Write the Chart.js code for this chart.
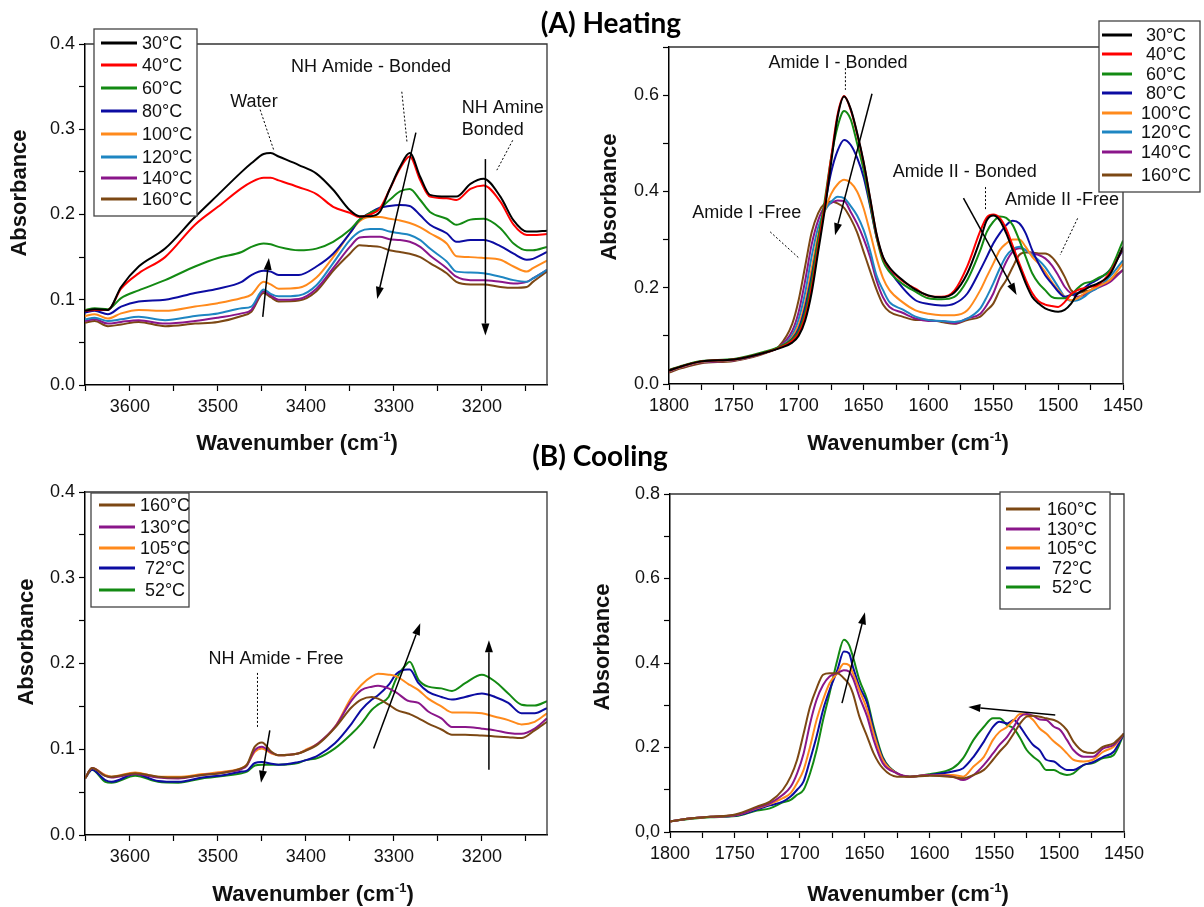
<!DOCTYPE html>
<html><head><meta charset="utf-8">
<script src="https://cdn.jsdelivr.net/npm/chart.js@4.4.1/dist/chart.umd.min.js"></script>
<style>
html,body{margin:0;padding:0;background:#fff;}
#wrap{position:relative;width:1204px;height:907px;overflow:hidden;background:#fff;}
canvas{position:absolute;}
.title{position:absolute;font-family:Lato,"Liberation Sans",sans-serif;font-weight:bold;font-size:28px;color:#000;transform:translate(-50%,-50%);white-space:nowrap;}
</style></head><body>
<div id="wrap">
<canvas id="c1" width="580" height="460" style="left:0px;top:0px"></canvas>
<canvas id="c2" width="624" height="460" style="left:580px;top:0px"></canvas>
<canvas id="c3" width="580" height="447" style="left:0px;top:460px"></canvas>
<canvas id="c4" width="624" height="447" style="left:580px;top:460px"></canvas>
<div class="title" style="left:611px;top:22px">(A) Heating</div>
<div class="title" style="left:600px;top:455px">(B) Cooling</div>
</div>
<script>
// ---------- DATA ----------
const HEAT_LABELS = ['30°C','40°C','60°C','80°C','100°C','120°C','140°C','160°C'];
const COOL_LABELS = ['160°C','130°C','105°C','72°C','52°C'];

// (A) Heating, NH region
const WN_A1 = [3651,3640,3625,3610,3590,3560,3526,3500,3473,3462,3448,3440,3431,3408,3388,3369,3350,3339,3327,3316,3305,3293,3282,3270,3259,3240,3229,3213,3198,3179,3164,3149,3142,3126];
const A1_30  = [0.087,0.089,0.088,0.115,0.139,0.160,0.197,0.223,0.250,0.260,0.271,0.272,0.268,0.258,0.248,0.229,0.205,0.198,0.198,0.203,0.229,0.256,0.272,0.244,0.223,0.221,0.221,0.236,0.242,0.221,0.193,0.180,0.180,0.181];
const A1_40  = [0.087,0.088,0.088,0.113,0.131,0.150,0.188,0.209,0.231,0.238,0.243,0.243,0.240,0.232,0.224,0.209,0.202,0.197,0.200,0.207,0.229,0.254,0.268,0.240,0.221,0.219,0.217,0.230,0.234,0.215,0.188,0.176,0.176,0.177];
const A1_60  = [0.088,0.090,0.089,0.102,0.111,0.123,0.139,0.149,0.156,0.162,0.166,0.165,0.162,0.158,0.160,0.168,0.182,0.194,0.202,0.207,0.217,0.227,0.230,0.217,0.203,0.195,0.188,0.194,0.195,0.184,0.166,0.158,0.158,0.162];
const A1_80  = [0.085,0.087,0.083,0.092,0.098,0.100,0.108,0.113,0.121,0.129,0.134,0.133,0.129,0.129,0.139,0.154,0.178,0.194,0.202,0.208,0.210,0.211,0.210,0.199,0.188,0.178,0.168,0.170,0.170,0.163,0.154,0.147,0.148,0.156];
const A1_100 = [0.081,0.083,0.078,0.084,0.088,0.087,0.092,0.096,0.102,0.106,0.121,0.118,0.113,0.114,0.126,0.150,0.178,0.192,0.197,0.197,0.195,0.193,0.190,0.185,0.178,0.166,0.151,0.150,0.149,0.147,0.139,0.133,0.137,0.146];
const A1_120 = [0.077,0.079,0.075,0.077,0.080,0.076,0.081,0.084,0.090,0.092,0.112,0.107,0.104,0.105,0.117,0.143,0.170,0.180,0.183,0.183,0.180,0.178,0.176,0.170,0.160,0.145,0.133,0.132,0.131,0.127,0.123,0.121,0.125,0.135];
const A1_140 = [0.075,0.077,0.072,0.074,0.076,0.072,0.075,0.079,0.084,0.088,0.110,0.105,0.100,0.101,0.113,0.137,0.162,0.173,0.174,0.174,0.171,0.170,0.168,0.162,0.152,0.137,0.127,0.123,0.123,0.121,0.119,0.121,0.125,0.135];
const A1_160 = [0.073,0.075,0.069,0.071,0.074,0.069,0.072,0.074,0.081,0.086,0.108,0.103,0.098,0.099,0.110,0.134,0.154,0.164,0.163,0.162,0.158,0.156,0.154,0.150,0.143,0.131,0.121,0.118,0.118,0.115,0.114,0.115,0.121,0.133];

// (A) Heating, amide region
const WN_A2 = [1800,1790,1775,1750,1725,1715,1705,1700,1695,1690,1685,1680,1675,1670,1665,1660,1655,1650,1645,1640,1635,1630,1620,1610,1600,1590,1580,1570,1560,1555,1550,1545,1540,1535,1530,1525,1520,1515,1510,1505,1500,1495,1490,1485,1480,1475,1470,1460,1450];
const A2_30  = [0.028,0.037,0.047,0.051,0.066,0.074,0.086,0.100,0.132,0.190,0.275,0.360,0.460,0.555,0.597,0.572,0.522,0.462,0.387,0.312,0.264,0.242,0.216,0.196,0.184,0.180,0.190,0.230,0.300,0.340,0.350,0.340,0.313,0.278,0.244,0.209,0.181,0.167,0.157,0.152,0.150,0.154,0.167,0.188,0.195,0.203,0.208,0.228,0.285];
const A2_40  = [0.028,0.037,0.047,0.051,0.066,0.075,0.090,0.105,0.140,0.200,0.285,0.370,0.470,0.560,0.598,0.570,0.520,0.460,0.385,0.310,0.262,0.240,0.214,0.198,0.183,0.181,0.194,0.245,0.318,0.346,0.352,0.345,0.322,0.287,0.251,0.217,0.189,0.172,0.165,0.162,0.160,0.170,0.187,0.195,0.199,0.202,0.205,0.232,0.283];
const A2_60  = [0.029,0.038,0.048,0.052,0.068,0.077,0.093,0.110,0.150,0.215,0.300,0.380,0.470,0.535,0.567,0.550,0.500,0.445,0.375,0.305,0.255,0.233,0.208,0.192,0.178,0.176,0.181,0.216,0.278,0.316,0.337,0.348,0.345,0.330,0.299,0.264,0.230,0.209,0.195,0.181,0.178,0.178,0.185,0.199,0.209,0.212,0.219,0.237,0.298];
const A2_80  = [0.028,0.037,0.047,0.051,0.066,0.076,0.094,0.115,0.160,0.225,0.300,0.370,0.440,0.485,0.507,0.497,0.470,0.430,0.370,0.305,0.262,0.237,0.200,0.174,0.166,0.163,0.167,0.188,0.237,0.264,0.292,0.313,0.330,0.339,0.334,0.313,0.278,0.250,0.226,0.209,0.192,0.181,0.185,0.188,0.199,0.209,0.216,0.237,0.278];
const A2_100 = [0.027,0.036,0.046,0.050,0.066,0.076,0.097,0.123,0.170,0.240,0.310,0.360,0.395,0.415,0.424,0.418,0.400,0.365,0.315,0.262,0.220,0.195,0.170,0.153,0.146,0.143,0.143,0.153,0.195,0.223,0.250,0.278,0.292,0.300,0.300,0.285,0.264,0.250,0.233,0.212,0.195,0.181,0.174,0.178,0.188,0.195,0.202,0.216,0.250];
const A2_120 = [0.027,0.036,0.046,0.050,0.066,0.076,0.102,0.135,0.190,0.265,0.325,0.360,0.378,0.389,0.386,0.370,0.350,0.320,0.277,0.225,0.195,0.170,0.155,0.140,0.133,0.131,0.129,0.136,0.157,0.181,0.209,0.240,0.266,0.280,0.285,0.278,0.268,0.257,0.243,0.223,0.202,0.181,0.173,0.174,0.181,0.192,0.199,0.223,0.257];
const A2_140 = [0.026,0.035,0.045,0.049,0.066,0.077,0.110,0.150,0.215,0.290,0.340,0.368,0.376,0.381,0.380,0.358,0.333,0.302,0.264,0.215,0.180,0.160,0.148,0.136,0.131,0.131,0.126,0.136,0.146,0.164,0.188,0.223,0.254,0.275,0.282,0.278,0.271,0.268,0.261,0.247,0.226,0.202,0.188,0.181,0.185,0.192,0.199,0.212,0.237];
const A2_160 = [0.024,0.033,0.043,0.048,0.065,0.079,0.125,0.175,0.245,0.315,0.355,0.375,0.379,0.375,0.366,0.344,0.315,0.275,0.235,0.196,0.165,0.150,0.140,0.133,0.133,0.129,0.125,0.133,0.140,0.153,0.167,0.195,0.216,0.243,0.268,0.273,0.273,0.271,0.271,0.264,0.247,0.223,0.195,0.188,0.192,0.195,0.202,0.216,0.237];

// (B) Cooling, NH region
const WN_B1 = [3651,3643,3628,3621,3594,3568,3545,3518,3492,3473,3467,3458,3450,3439,3431,3409,3401,3386,3367,3348,3337,3325,3318,3306,3297,3285,3282,3272,3261,3246,3234,3219,3200,3185,3170,3155,3140,3126];
const B1_160 = [0.066,0.078,0.069,0.068,0.072,0.068,0.067,0.070,0.073,0.078,0.082,0.103,0.108,0.097,0.093,0.095,0.098,0.106,0.125,0.149,0.158,0.161,0.159,0.152,0.146,0.142,0.141,0.136,0.130,0.123,0.117,0.117,0.116,0.115,0.114,0.113,0.122,0.132];
const B1_130 = [0.066,0.078,0.069,0.067,0.071,0.067,0.066,0.070,0.073,0.077,0.081,0.099,0.103,0.096,0.093,0.095,0.098,0.107,0.126,0.157,0.169,0.173,0.174,0.171,0.166,0.157,0.156,0.154,0.144,0.136,0.126,0.126,0.124,0.122,0.119,0.118,0.124,0.136];
const B1_105 = [0.066,0.078,0.070,0.068,0.073,0.068,0.068,0.071,0.074,0.078,0.082,0.097,0.101,0.095,0.093,0.095,0.099,0.107,0.126,0.161,0.175,0.185,0.188,0.187,0.185,0.177,0.175,0.169,0.159,0.150,0.143,0.143,0.142,0.138,0.134,0.129,0.132,0.142];
const B1_72  = [0.066,0.076,0.064,0.062,0.071,0.063,0.062,0.067,0.070,0.074,0.075,0.084,0.085,0.083,0.082,0.085,0.087,0.093,0.107,0.130,0.146,0.158,0.163,0.175,0.188,0.193,0.193,0.177,0.167,0.161,0.158,0.161,0.165,0.161,0.154,0.142,0.142,0.148];
const B1_52  = [0.066,0.076,0.062,0.061,0.069,0.062,0.061,0.066,0.069,0.072,0.074,0.081,0.082,0.082,0.082,0.084,0.087,0.090,0.101,0.118,0.130,0.146,0.152,0.161,0.183,0.200,0.202,0.181,0.173,0.171,0.168,0.177,0.187,0.179,0.165,0.152,0.151,0.156];

// (B) Cooling, amide region
const WN_B2 = [1800,1785,1769,1749,1733,1723,1713,1707,1702,1697,1692,1687,1682,1677,1671,1666,1662,1659,1654,1648,1643,1636,1625,1615,1600,1582,1574,1566,1558,1551,1546,1540,1535,1530,1525,1520,1515,1510,1504,1499,1494,1489,1481,1474,1466,1458,1450];
const B2_160 = [0.025,0.032,0.036,0.042,0.060,0.072,0.100,0.131,0.171,0.233,0.297,0.340,0.372,0.376,0.376,0.364,0.350,0.328,0.273,0.226,0.186,0.151,0.131,0.131,0.133,0.130,0.127,0.135,0.147,0.171,0.190,0.210,0.233,0.257,0.273,0.275,0.273,0.269,0.265,0.257,0.241,0.214,0.190,0.187,0.202,0.210,0.233];
const B2_130 = [0.025,0.032,0.036,0.040,0.057,0.068,0.088,0.107,0.139,0.186,0.257,0.313,0.348,0.368,0.376,0.383,0.380,0.364,0.320,0.273,0.218,0.163,0.139,0.131,0.135,0.131,0.123,0.135,0.159,0.186,0.206,0.226,0.249,0.273,0.279,0.275,0.266,0.265,0.249,0.241,0.218,0.194,0.178,0.178,0.198,0.206,0.233];
const B2_105 = [0.025,0.032,0.036,0.040,0.056,0.066,0.080,0.092,0.116,0.147,0.202,0.265,0.313,0.352,0.376,0.398,0.395,0.376,0.336,0.289,0.233,0.171,0.139,0.131,0.135,0.135,0.131,0.155,0.178,0.218,0.237,0.249,0.265,0.279,0.277,0.265,0.245,0.233,0.214,0.202,0.186,0.171,0.167,0.171,0.190,0.202,0.233];
const B2_72  = [0.025,0.032,0.036,0.039,0.053,0.063,0.072,0.084,0.100,0.120,0.171,0.226,0.289,0.336,0.383,0.427,0.423,0.391,0.344,0.305,0.241,0.175,0.139,0.131,0.135,0.143,0.151,0.178,0.214,0.249,0.261,0.257,0.265,0.249,0.226,0.206,0.194,0.171,0.167,0.155,0.147,0.147,0.159,0.165,0.178,0.190,0.233];
const B2_52  = [0.025,0.031,0.035,0.038,0.051,0.056,0.070,0.076,0.088,0.100,0.139,0.194,0.265,0.328,0.407,0.455,0.443,0.415,0.360,0.313,0.249,0.178,0.139,0.131,0.137,0.151,0.175,0.218,0.249,0.269,0.269,0.253,0.245,0.222,0.194,0.178,0.166,0.147,0.147,0.139,0.135,0.139,0.159,0.163,0.175,0.182,0.233];

// tick values
const X_TICKS_NH = [3650,3600,3550,3500,3450,3400,3350,3300,3250,3200,3150];
const X_TICKS_AM = [1800,1775,1750,1725,1700,1675,1650,1625,1600,1575,1550,1525,1500,1475,1450];
const Y_TICKS_04 = [0,0.05,0.1,0.15,0.2,0.25,0.3,0.35,0.4];
const Y_TICKS_07 = [0,0.1,0.2,0.3,0.4,0.5,0.6,0.7];
const Y_TICKS_08 = [0,0.1,0.2,0.3,0.4,0.5,0.6,0.7,0.8];

// ---------- STYLE ----------
const HEAT_COLORS = ['#000000','#ff0000','#138a13','#0c0ca2','#ff8a1c','#1e86c2','#8a168a','#7c4814'];
const COOL_COLORS = ['#7c4814','#8a168a','#ff8a1c','#0c0ca2','#138a13'];
const FONT = '"Liberation Sans", Arial, sans-serif';
Chart.defaults.font.family = FONT;

const DECO = {};
function arrow(ctx,x1,y1,x2,y2){
  const ang=Math.atan2(y2-y1,x2-x1), L=12, W=4;
  const bx=x2-L*Math.cos(ang), by=y2-L*Math.sin(ang);
  ctx.strokeStyle='#000'; ctx.fillStyle='#000'; ctx.lineWidth=1.5; ctx.setLineDash([]);
  ctx.beginPath(); ctx.moveTo(x1,y1); ctx.lineTo(bx,by); ctx.stroke();
  ctx.beginPath(); ctx.moveTo(x2,y2);
  ctx.lineTo(bx+W*Math.sin(ang), by-W*Math.cos(ang));
  ctx.lineTo(bx-W*Math.sin(ang), by+W*Math.cos(ang));
  ctx.closePath(); ctx.fill();
}
const deco = {
  id:'deco',
  afterDraw(chart){
    const o = DECO[chart.canvas.id]; if(!o) return;
    const ctx=chart.ctx, ca=chart.chartArea, xs=chart.scales.x, ys=chart.scales.y;
    const px=v=>xs.getPixelForValue(v), py=v=>ys.getPixelForValue(v);
    ctx.save();
    // frame top/right
    ctx.strokeStyle='#333'; ctx.lineWidth=1.3;
    ctx.beginPath(); ctx.moveTo(ca.left,ca.top); ctx.lineTo(ca.right,ca.top); ctx.lineTo(ca.right,ca.bottom); ctx.stroke();
    // dotted leaders
    ctx.strokeStyle='#000'; ctx.lineWidth=1; ctx.setLineDash([2,2]);
    o.dotted.forEach(d=>{ ctx.beginPath(); ctx.moveTo(px(d[0]),py(d[1])); ctx.lineTo(px(d[2]),py(d[3])); ctx.stroke(); });
    ctx.setLineDash([]);
    // arrows
    o.arrows.forEach(a=>arrow(ctx,px(a[0]),py(a[1]),px(a[2]),py(a[3])));
    // annotation texts
    ctx.fillStyle='#111'; ctx.font='18px '+FONT; ctx.textBaseline='middle';
    o.texts.forEach(t=>{ ctx.textAlign=t.align||'center'; ctx.fillText(t.t,px(t.x),py(t.y)); });
    // legend
    const L=o.legend;
    ctx.fillStyle='#fff'; ctx.fillRect(L.box[0],L.box[1],L.box[2]-L.box[0],L.box[3]-L.box[1]);
    ctx.strokeStyle='#444'; ctx.lineWidth=1.3; ctx.strokeRect(L.box[0],L.box[1],L.box[2]-L.box[0],L.box[3]-L.box[1]);
    chart.data.datasets.forEach((ds,i)=>{
      const y=L.rows[i];
      ctx.strokeStyle=ds.borderColor; ctx.lineWidth=3;
      ctx.beginPath(); ctx.moveTo(L.line[0],y); ctx.lineTo(L.line[1],y); ctx.stroke();
      ctx.fillStyle='#111'; ctx.font='18px '+FONT; ctx.textAlign=L.align; ctx.textBaseline='middle';
      ctx.fillText(ds.label,L.tx,y+1);
    });
    // axis titles
    ctx.fillStyle='#111';
    ctx.save(); ctx.translate(o.yTitle[0],o.yTitle[1]); ctx.rotate(-Math.PI/2);
    ctx.font='bold 22px '+FONT; ctx.textAlign='center'; ctx.textBaseline='middle';
    ctx.fillText('Absorbance',0,0); ctx.restore();
    const big='bold 22px '+FONT, small='bold 13px '+FONT;
    const a='Wavenumber (cm', s='-1', b=')';
    ctx.font=big; const wa=ctx.measureText(a).width, wb=ctx.measureText(b).width;
    ctx.font=small; const ws=ctx.measureText(s).width;
    let x=o.xTitle[0]-(wa+ws+wb)/2; const cy=o.xTitle[1];
    ctx.textAlign='left'; ctx.textBaseline='alphabetic';
    ctx.font=big; ctx.fillText(a,x,cy+8); x+=wa;
    ctx.font=small; ctx.fillText(s,x,cy-1); x+=ws;
    ctx.font=big; ctx.fillText(b,x,cy+8);
    ctx.restore();
  }
};

function makeChart(id, p){
  const datasets = p.series.map((vals,i)=>({
    label:p.labels[i],
    data:p.wn.map((w,j)=>({x:w,y:vals[j]})),
    borderColor:p.colors[i], backgroundColor:p.colors[i],
    borderWidth:2, pointRadius:0, fill:false, cubicInterpolationMode:'monotone'
  }));
  const tickFont={family:FONT,size:18};
  const grid={drawOnChartArea:false,drawTicks:true,tickLength:6,color:'#000',tickWidth:1.2};
  const border={display:true,color:'#000',width:1.5};
  DECO[id]=p.deco;
  return new Chart(document.getElementById(id),{
    type:'line',
    data:{datasets},
    options:{
      responsive:false, animation:false, devicePixelRatio:1,
      layout:{padding:{left:0,top:p.area.top,right:p.area.right,bottom:0}},
      plugins:{legend:{display:false},tooltip:{enabled:false}},
      scales:{
        x:{type:'linear',reverse:true,min:p.xmin,max:p.xmax,
          afterBuildTicks:s=>{s.ticks=p.xticks.map(v=>({value:v}));},
          afterFit:s=>{s.height=p.area.xh;},
          ticks:{autoSkip:false,maxRotation:0,minRotation:0,padding:5,color:'#111',font:tickFont,callback:v=>p.xlabel(v)},
          grid, border},
        y:{type:'linear',min:0,max:p.ymax,
          afterBuildTicks:s=>{s.ticks=p.yticks.map(v=>({value:v}));},
          afterFit:s=>{s.width=p.area.yw;},
          ticks:{autoSkip:false,padding:4,color:'#111',font:tickFont,callback:v=>p.ylabel(v)},
          grid, border}
      }
    },
    plugins:[deco]
  });
}
const lab100=v=>(Math.abs(v%100)<1e-6?String(v):'');
const lab50=v=>(Math.abs(v%50)<1e-6?String(v):'');
const labTenth=v=>(Math.abs(v*10-Math.round(v*10))<1e-6?v.toFixed(1):'');
const labFifth=v=>(Math.round(v*10)%2===0&&Math.abs(v*10-Math.round(v*10))<1e-6?v.toFixed(1):'');
const labFifthComma=v=>{const s=labFifth(v); return s==='0.0'?'0,0':s;};

makeChart('c1',{
  wn:WN_A1, series:[A1_30,A1_40,A1_60,A1_80,A1_100,A1_120,A1_140,A1_160], labels:HEAT_LABELS, colors:HEAT_COLORS,
  xmin:3126,xmax:3651,xticks:X_TICKS_NH,xlabel:lab100,ymax:0.4,yticks:Y_TICKS_04,ylabel:labTenth,
  area:{top:44,right:33,xh:75,yw:85},
  deco:{
    texts:[{t:'Water',x:3459,y:0.332},{t:'NH Amide - Bonded',x:3326,y:0.373},{t:'NH Amine',x:3223,y:0.325,align:'left'},{t:'Bonded',x:3223,y:0.299,align:'left'}],
    dotted:[[3452,0.323,3436,0.274],[3291,0.344,3285,0.284],[3165,0.287,3183,0.252]],
    arrows:[[3449,0.080,3442,0.149],[3275,0.296,3319,0.101],[3196,0.265,3196,0.058]],
    legend:{box:[94,29,197,216],line:[101,137],tx:142,align:'left',rows:[43,65,88,111,134,157,178,199]},
    yTitle:[20,193], xTitle:[297,442]
  }
});
makeChart('c2',{
  wn:WN_A2, series:[A2_30,A2_40,A2_60,A2_80,A2_100,A2_120,A2_140,A2_160], labels:HEAT_LABELS, colors:HEAT_COLORS,
  xmin:1450,xmax:1800,xticks:X_TICKS_AM,xlabel:lab50,ymax:0.7,yticks:Y_TICKS_07,ylabel:labFifth,
  area:{top:47,right:81,xh:76,yw:89},
  deco:{
    texts:[{t:'Amide I - Bonded',x:1669.7,y:0.667},{t:'Amide I -Free',x:1740,y:0.355},{t:'Amide II - Bonded',x:1572,y:0.440},{t:'Amide II -Free',x:1541,y:0.382,align:'left'}],
    dotted:[[1664,0.656,1664,0.611],[1722,0.316,1700,0.262],[1556,0.409,1556,0.361],[1485,0.344,1498.5,0.268]],
    arrows:[[1643.5,0.603,1672,0.309],[1573,0.386,1532,0.185]],
    legend:{box:[519,21,620,192],line:[522,552],tx:586,align:'center',rows:[35,54,74,93,113,132,152,175]},
    yTitle:[30,197], xTitle:[328,442]
  }
});
makeChart('c3',{
  wn:WN_B1, series:[B1_160,B1_130,B1_105,B1_72,B1_52], labels:COOL_LABELS, colors:COOL_COLORS,
  xmin:3126,xmax:3651,xticks:X_TICKS_NH,xlabel:lab100,ymax:0.4,yticks:Y_TICKS_04,ylabel:labTenth,
  area:{top:32,right:33,xh:72,yw:85},
  deco:{
    texts:[{t:'NH Amide - Free',x:3434,y:0.205}],
    dotted:[[3455,0.189,3455,0.126]],
    arrows:[[3441,0.122,3451,0.061],[3323,0.101,3270,0.247],[3192,0.076,3192,0.227]],
    legend:{box:[91,33,189,147],line:[99,135],tx:165,align:'center',rows:[45,67,88,108,130]},
    yTitle:[27,182], xTitle:[313,433]
  }
});
makeChart('c4',{
  wn:WN_B2, series:[B2_160,B2_130,B2_105,B2_72,B2_52], labels:COOL_LABELS, colors:COOL_COLORS,
  xmin:1450,xmax:1800,xticks:X_TICKS_AM,xlabel:lab50,ymax:0.8,yticks:Y_TICKS_08,ylabel:labFifthComma,
  area:{top:34,right:80,xh:75,yw:90},
  deco:{
    texts:[],
    dotted:[],
    arrows:[[1667.4,0.305,1649.7,0.520],[1503,0.277,1570,0.296]],
    legend:{box:[420,32,530,149],line:[426,460],tx:492,align:'center',rows:[49,69,88,108,127]},
    yTitle:[23,187], xTitle:[328,433]
  }
});
</script>
</body></html>
